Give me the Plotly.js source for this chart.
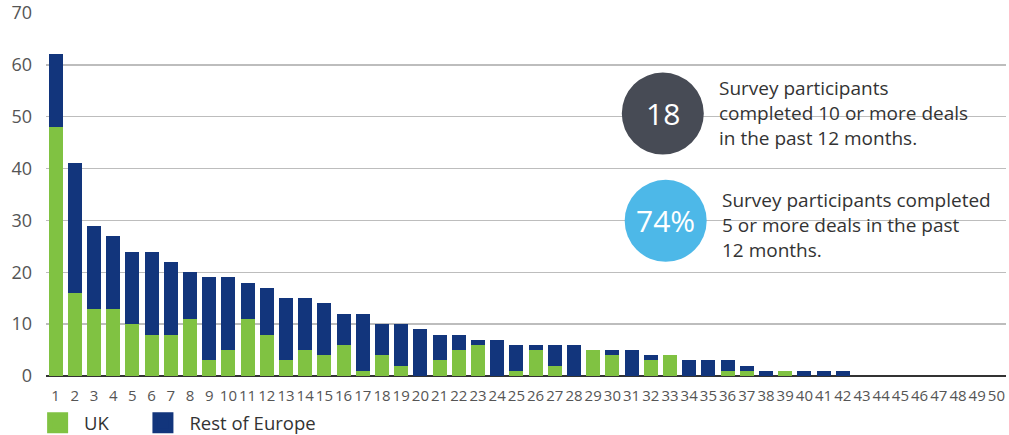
<!DOCTYPE html>
<html>
<head>
<meta charset="utf-8">
<script src="https://cdn.plot.ly/plotly-3.0.1.min.js"></script>
<style>html,body{margin:0;padding:0;background:#fff;}#chart{width:1009px;height:435px;}</style>
</head>
<body>
<div id="chart"></div>
<script>
const categories = Array.from({length: 50}, (_, i) => String(i + 1));
const ukValues = [48,16,13,13,10,8,8,11,3,5,11,8,3,5,4,6,1,4,2,0,3,5,6,0,1,5,2,0,5,4,0,3,4,0,0,1,1,0,1,0,0,0,0,0,0,0,0,0,0,0];
const restValues = [14,25,16,14,14,16,14,9,16,14,7,9,12,10,10,6,11,6,8,9,5,3,1,7,5,1,4,6,0,1,5,1,0,3,3,2,1,1,0,1,1,1,0,0,0,0,0,0,0,0];
const yTicks = [0,10,20,30,40,50,60,70];
const seriesNames = ["UK", "Rest of Europe"];
const callouts = [
  {value: "18", lines: ["Survey participants", "completed 10 or more deals", "in the past 12 months."]},
  {value: "74%", lines: ["Survey participants completed", "5 or more deals in the past", "12 months."]}
];

const GREEN = "#80c242", NAVY = "#12357c";
const FONT = "Open Sans, sans-serif";

const traces = [
  {type: "bar", x: categories, y: ukValues, name: seriesNames[0], marker: {color: GREEN}, showlegend: false, hoverinfo: "x+y+name"},
  {type: "bar", x: categories, y: restValues, name: seriesNames[1], marker: {color: NAVY}, showlegend: false, hoverinfo: "x+y+name"},
  {type: "scatter", mode: "markers", x: [null], y: [null], name: seriesNames[0], legend: "legend",
    marker: {symbol: "square", size: 18, color: GREEN, line: {color: GREEN, width: 5}}},
  {type: "scatter", mode: "markers", x: [null], y: [null], name: seriesNames[1], legend: "legend2",
    marker: {symbol: "square", size: 18, color: NAVY, line: {color: NAVY, width: 5}}}
];

const circleSpec = [
  {x: 0.6425, y: 0.723, color: "#474b55"},
  {x: 0.6455, y: 0.4276, color: "#4db8e8"}
];
const textSpec = [
  {x: 0.6985, ys: [0.7945, 0.7255, 0.6566]},
  {x: 0.7022, ys: [0.4855, 0.4166, 0.3476]}
];

const shapes = [];
const annotations = [];
callouts.forEach((c, i) => {
  const cs = circleSpec[i];
  shapes.push({type: "circle", xref: "paper", yref: "paper", xsizemode: "pixel", ysizemode: "pixel",
    xanchor: cs.x, yanchor: cs.y, x0: -41, x1: 41, y0: -41, y1: 41,
    fillcolor: cs.color, line: {width: 0}, layer: "above"});
  annotations.push({xref: "paper", yref: "paper", x: cs.x, y: cs.y, text: c.value, showarrow: false,
    xanchor: "center", yanchor: "middle", font: {family: FONT, size: 30, color: "#ffffff"}});
  c.lines.forEach((ln, j) => {
    annotations.push({xref: "paper", yref: "paper", x: textSpec[i].x, y: textSpec[i].ys[j], text: ln, showarrow: false,
      xanchor: "left", yanchor: "middle", font: {family: FONT, size: 19, color: "#333333"}});
  });
});

const legendBase = {orientation: "h", xanchor: "left", y: -0.13, yanchor: "middle",
  font: {family: FONT, size: 18.5, color: "#333"}, itemwidth: 43, itemsizing: "trace", bgcolor: "rgba(0,0,0,0)"};

const layout = {
  width: 1009, height: 435,
  margin: {l: 46, r: 3, t: 13, b: 59, autoexpand: false},
  barmode: "stack", bargap: 0.27,
  paper_bgcolor: "#ffffff", plot_bgcolor: "#ffffff",
  font: {family: FONT, color: "#444"},
  xaxis: {type: "category", tickmode: "array", tickvals: categories, ticktext: categories, tickangle: 0,
    tickfont: {family: FONT, size: 15, color: "#555"}, ticks: "", showgrid: false,
    showline: false, zeroline: false, fixedrange: true, ticklabelstandoff: 9},
  yaxis: {range: [0, 70], tickvals: yTicks, ticktext: yTicks.map(String), tickfont: {family: FONT, size: 18, color: "#555"},
    showgrid: true, gridcolor: "#bdbdbd", gridwidth: 1.3, zeroline: true, zerolinecolor: "#333", zerolinewidth: 1.5,
    ticks: "", ticklabelstandoff: 13, fixedrange: true},
  showlegend: true,
  legend: Object.assign({}, legendBase, {x: -0.0155}),
  legend2: Object.assign({}, legendBase, {x: 0.0942}),
  shapes: shapes,
  annotations: annotations
};

Plotly.newPlot("chart", traces, layout, {displayModeBar: false, staticPlot: true});
</script>
</body>
</html>
